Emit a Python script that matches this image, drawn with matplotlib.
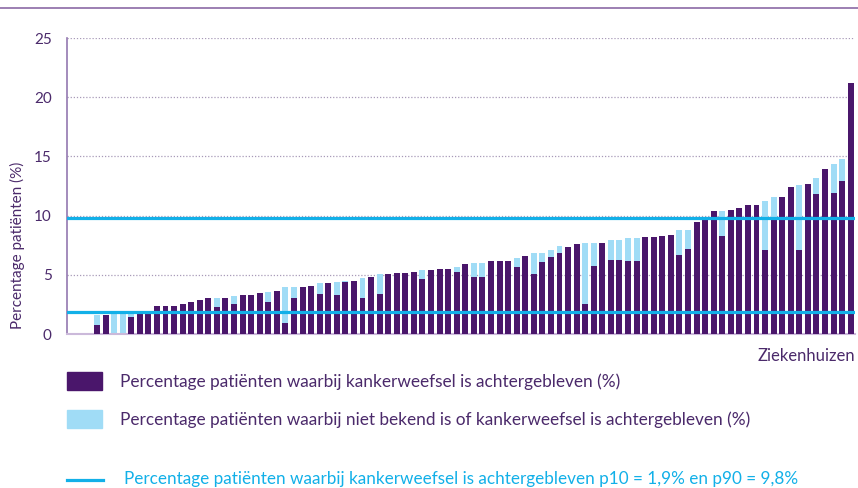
import matplotlib.pyplot as plt
from matplotlib.lines import Line2D
from matplotlib.patches import Rectangle

plt.rcParams['font.family'] = ['Lato', 'DejaVu Sans']

# percentage kankerweefsel achtergebleven, per ziekenhuis (gesorteerd)
achtergebleven = [
    0, 0, 0, 0.8, 1.6, 0, 0, 1.4, 1.95, 1.95, 2.4, 2.4, 2.4, 2.55, 2.7,
    2.9, 3.0, 2.3, 3.05, 2.55, 3.3, 3.3, 3.5, 2.7, 3.65, 0.9, 3.05, 4.0,
    4.05, 3.4, 4.3, 3.3, 4.4, 4.5, 3.05, 4.8, 3.4, 5.1, 5.15, 5.15, 5.25,
    4.65, 5.4, 5.5, 5.5, 5.25, 5.9, 4.8, 4.8, 6.2, 6.2, 6.2, 5.7, 6.6, 5.1,
    6.1, 6.5, 6.8, 7.35, 7.6, 2.55, 5.75, 7.7, 6.25, 6.25, 6.2, 6.2, 8.2,
    8.2, 8.3, 8.4, 6.7, 7.2, 9.5, 9.7, 10.35, 8.3, 10.5, 10.6, 10.9, 10.9,
    7.1, 9.6, 11.6, 12.4, 7.1, 12.7, 11.85, 13.9, 11.95, 12.9, 21.2,
]
# percentage niet bekend of kankerweefsel achtergebleven
niet_bekend_of = [
    0, 0, 0, 1.6, 1.6, 1.85, 1.85, 1.95, 1.95, 1.95, 2.4, 2.4, 2.4, 2.55,
    2.7, 2.9, 3.0, 3.05, 3.05, 3.2, 3.3, 3.3, 3.5, 3.55, 3.65, 4.0, 4.0,
    4.0, 4.05, 4.3, 4.3, 4.4, 4.5, 4.5, 4.75, 4.8, 5.1, 5.1, 5.15, 5.15,
    5.25, 5.4, 5.4, 5.5, 5.5, 5.7, 5.9, 6.0, 6.0, 6.2, 6.2, 6.2, 6.45, 6.6,
    6.85, 6.85, 7.1, 7.45, 7.35, 7.6, 7.7, 7.7, 7.7, 7.95, 7.95, 8.15, 8.15,
    8.2, 8.2, 8.3, 8.4, 8.75, 8.8, 9.5, 9.7, 10.35, 10.4, 10.5, 10.6, 10.9,
    10.9, 11.2, 11.55, 11.6, 12.4, 12.6, 12.7, 13.2, 13.9, 14.4, 14.75, 21.2,
]
p10 = 1.9
p90 = 9.8
y_ticks = [0, 5, 10, 15, 20, 25]

donker = '#4a166b'
licht = '#a0dcf6'
cyaan = '#12b0e8'
tekst = '#4b2a6b'

fig = plt.figure(figsize=(8.58, 4.88), dpi=100)
ax = fig.add_axes([67 / 858, 1 - 334 / 488, 788 / 858, 296 / 488])

x = range(len(achtergebleven))
ax.bar(x, niet_bekend_of, width=0.7, color=licht, zorder=2)
ax.bar(x, achtergebleven, width=0.7, color=donker, zorder=3)

ax.axhline(p10, color=cyaan, lw=2.3, zorder=4)
ax.axhline(p90, color=cyaan, lw=2.3, zorder=4)

ax.set_xlim(-0.5, len(achtergebleven) - 0.5)
ax.set_ylim(0, 25)
ax.set_yticks(y_ticks)
ax.set_xticks([])
ax.tick_params(axis='y', length=0, pad=11, labelsize=11, labelcolor=tekst)
for t in y_ticks[1:]:
    ax.axhline(t, color='#a89ab8', lw=0.9, ls=(0, (1, 1.5)), zorder=1)

for s in ['top', 'right']:
    ax.spines[s].set_visible(False)
ax.spines['left'].set_color('#9478b0')
ax.spines['left'].set_linewidth(1.2)
ax.spines['bottom'].set_color('#cbb9da')
ax.spines['bottom'].set_linewidth(1.5)

ax.set_ylabel('Percentage patiënten (%)', fontsize=11, color=tekst)
ax.yaxis.set_label_coords(-42 / 788, 0.3)

fig.text(855 / 858, 1 - 356 / 488, 'Ziekenhuizen', ha='right', va='center',
         fontsize=12, color=tekst)

# bovenste lijn
fig.add_artist(Line2D([0, 1], [1 - 8 / 488, 1 - 8 / 488], color='#8b6aa6', lw=1.2))

# legenda
fig.add_artist(Rectangle((67 / 858, 1 - 390 / 488), 35 / 858, 18 / 488, color=donker))
fig.text(120 / 858, 1 - 382 / 488,
         'Percentage patiënten waarbij kankerweefsel is achtergebleven (%)',
         va='center', fontsize=12.4, color=tekst)
fig.add_artist(Rectangle((67 / 858, 1 - 428 / 488), 35 / 858, 18 / 488, color=licht))
fig.text(120 / 858, 1 - 420 / 488,
         'Percentage patiënten waarbij niet bekend is of kankerweefsel is achtergebleven (%)',
         va='center', fontsize=12.4, color=tekst)
fig.add_artist(Line2D([67 / 858, 103 / 858], [1 - 480 / 488, 1 - 480 / 488], color=cyaan, lw=2.3))
fig.text(124 / 858, 1 - 479 / 488,
         'Percentage patiënten waarbij kankerweefsel is achtergebleven p10 = 1,9% en p90 = 9,8%',
         va='center', fontsize=12.3, color=cyaan)

plt.savefig('out.png', dpi=100)
plt.close()
